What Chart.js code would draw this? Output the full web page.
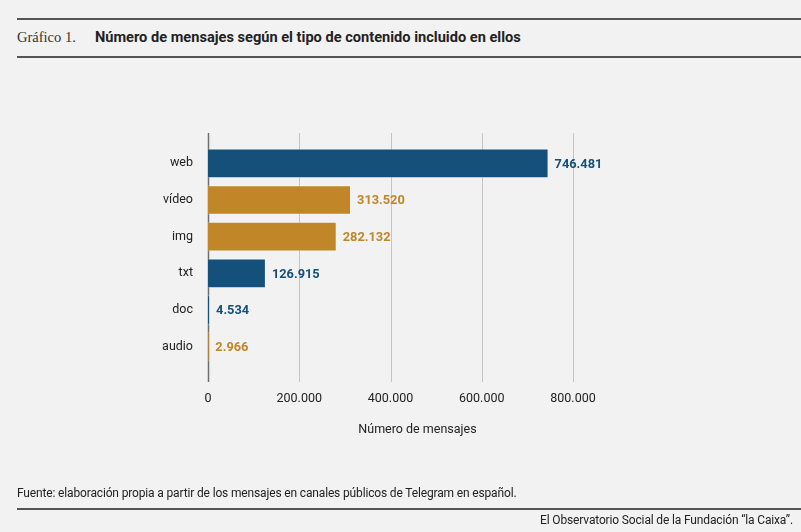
<!DOCTYPE html>
<html>
<head>
<meta charset="utf-8">
<script src="https://cdn.jsdelivr.net/npm/chart.js@4"></script>
<style>
  html, body { margin: 0; padding: 0; background: #f2f2f2; }
  #wrap { position: relative; width: 801px; height: 532px; overflow: hidden; font-family: Roboto, "Liberation Sans", sans-serif; color: #222; }
  .rule { position: absolute; left: 17px; right: 0; height: 2px; background: #555; }
  #head { position: absolute; left: 17px; top: 28px; font-size: 14.6px; white-space: nowrap; }
  #head .num { font-family: "Liberation Serif", "DejaVu Serif", serif; color: #333; font-size: 14.5px; display: inline-block; width: 78px; }
  #head .tit { font-weight: bold; color: #222; }
  #src { position: absolute; left: 17px; top: 486px; font-size: 12px; color: #222; letter-spacing: -0.15px; }
  #org { position: absolute; right: 8px; top: 513px; font-size: 12px; color: #222; letter-spacing: -0.15px; }
  #chart { position: absolute; left: 0; top: 0; }
</style>
</head>
<body>
<div id="wrap">
  <div class="rule" style="top:18px"></div>
  <div id="head"><span class="num">Gráfico 1.</span><span class="tit">Número de mensajes según el tipo de contenido incluido en ellos</span></div>
  <div class="rule" style="top:56px"></div>
  <canvas id="chart" width="801" height="532"></canvas>
  <div id="src">Fuente: elaboración propia a partir de los mensajes en canales públicos de Telegram en español.</div>
  <div class="rule" style="top:508px"></div>
  <div id="org">El Observatorio Social de la Fundación “la Caixa”.</div>
</div>
<script>
// Data
const categories = ['web', 'vídeo', 'img', 'txt', 'doc', 'audio'];
const messageCounts = [746481, 313520, 282132, 126915, 4534, 2966];
const barColors = ['#14507a', '#c08628', '#c08628', '#14507a', '#14507a', '#c08628'];
const xTicks = [0, 200000, 400000, 600000, 800000];
const axisTitle = 'Número de mensajes';

const fmt = v => String(v).replace(/\B(?=(\d{3})+(?!\d))/g, '.');

// vertical grid lines that run a bit past the bars, like the original
const gridPlugin = {
  id: 'longGrid',
  beforeDatasetsDraw(chart) {
    const { ctx, chartArea, scales } = chart;
    ctx.save();
    xTicks.forEach(t => {
      const x = Math.round(scales.x.getPixelForValue(t)) + 0.5;
      ctx.strokeStyle = t === 0 ? '#6e6e6e' : '#c4c4c4';
      ctx.lineWidth = t === 0 ? 1.5 : 1;
      ctx.beginPath();
      ctx.moveTo(x, chartArea.top - 12);
      ctx.lineTo(x, chartArea.bottom + 17);
      ctx.stroke();
    });
    ctx.restore();
  }
};

// value labels at the end of every bar + the x axis title (sits a bit right of centre)
const valuePlugin = {
  id: 'values',
  afterDatasetsDraw(chart) {
    const { ctx, chartArea } = chart;
    const meta = chart.getDatasetMeta(0);
    ctx.save();
    ctx.font = 'bold 12.8px Roboto, sans-serif';
    ctx.textBaseline = 'middle';
    meta.data.forEach((bar, i) => {
      ctx.fillStyle = barColors[i];
      ctx.fillText(fmt(messageCounts[i]), Math.max(bar.x, 209) + 6, bar.y + 1);
    });
    ctx.font = '12.5px Roboto, sans-serif';
    ctx.fillStyle = '#222';
    ctx.textAlign = 'center';
    ctx.fillText(axisTitle, (chartArea.left + chartArea.right) / 2 + 27, chartArea.bottom + 65);
    ctx.restore();
  }
};

new Chart(document.getElementById('chart'), {
  type: 'bar',
  data: {
    labels: categories,
    datasets: [{
      data: messageCounts,
      backgroundColor: barColors,
      borderColor: 'rgba(255,255,255,0.35)',
      borderWidth: 1,
      borderSkipped: 'left',
      barPercentage: 0.9,
      categoryPercentage: 0.9
    }]
  },
  options: {
    indexAxis: 'y',
    responsive: false,
    animation: false,
    devicePixelRatio: 1,
    layout: { padding: { top: 145, right: 228, left: 0, bottom: 90 } },
    plugins: { legend: { display: false }, tooltip: { enabled: false } },
    scales: {
      x: {
        min: 0,
        max: 800000,
        afterBuildTicks: s => { s.ticks = xTicks.map(v => ({ value: v })); },
        afterFit: s => { s.height = 77; },
        grid: { display: false },
        border: { display: false },
        ticks: {
          padding: 18,
          color: '#222',
          font: { family: 'Roboto', size: 12.5 },
          callback: v => fmt(v)
        }
      },
      y: {
        afterFit: s => { s.width = 208; },
        grid: { display: false },
        border: { display: false },
        ticks: {
          padding: 7,
          color: '#222',
          font: { family: 'Roboto', size: 12.5 }
        }
      }
    }
  },
  plugins: [gridPlugin, valuePlugin]
});
</script>
</body>
</html>
